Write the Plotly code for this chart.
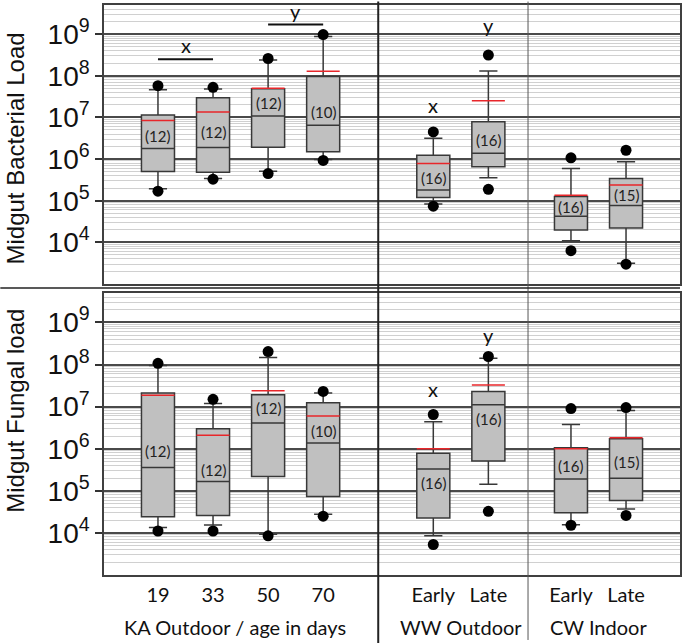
import plotly.graph_objects as go

# ---------------- data ----------------
categories = ["19", "33", "50", "70", "Early", "Late", "Early", "Late"]
group_labels = ["KA Outdoor / age in days", "WW Outdoor", "CW Indoor"]
n_counts = [12, 12, 12, 10, 16, 16, 16, 15]
y_tick_values = [1e4, 1e5, 1e6, 1e7, 1e8, 1e9]
y_tick_labels = ["10<sup>4</sup>", "10<sup>5</sup>", "10<sup>6</sup>", "10<sup>7</sup>",
                 "10<sup>8</sup>", "10<sup>9</sup>"]

bac_low_dot = [1.7e5, 3.3e5, 4.5e5, 9.3e5, 7.4e4, 1.88e5, 6.3e3, 3.0e3]
bac_low_whisk = [1.95e5, 3.4e5, 5.1e5, 9.8e5, 8.4e4, 3.57e5, 1.1e4, 3.15e3]
bac_q1 = [5.06e5, 4.8e5, 1.93e6, 1.5e6, 1.19e5, 6.5e5, 1.97e4, 2.2e4]
bac_median = [1.8e6, 1.9e6, 1.08e7, 6.5e6, 1.81e5, 1.39e6, 4.26e4, 7.66e4]
bac_q3 = [1.14e7, 2.96e7, 4.9e7, 9.6e7, 1.24e6, 7.9e6, 1.26e5, 3.44e5]
bac_up_whisk = [4.6e7, 4.8e7, 2.4e8, 8.8e8, 3.16e6, 1.31e8, 5.96e5, 8.6e5]
bac_up_dot = [5.8e7, 5.3e7, 2.6e8, 9.8e8, 4.5e6, 3.15e8, 1.07e6, 1.63e6]
bac_mean = [8.5e6, 1.35e7, 5.0e7, 1.28e8, 7.85e5, 2.5e7, 1.35e5, 2.38e5]

fun_low_dot = [1.11e4, 1.11e4, 8.5e3, 2.5e4, 5.3e3, 3.25e4, 1.52e4, 2.6e4]
fun_low_whisk = [1.34e4, 1.55e4, 9.3e3, 2.76e4, 8.5e3, 1.44e5, 1.57e4, 3.7e4]
fun_q1 = [2.43e4, 2.6e4, 2.18e5, 7.3e4, 2.26e4, 5.1e5, 3.0e4, 5.9e4]
fun_median = [3.56e5, 1.66e5, 4.1e6, 1.36e6, 3.3e5, 1.11e7, 1.92e5, 1.99e5]
fun_q3 = [2.1e7, 3.0e6, 1.92e7, 1.24e7, 7.8e5, 2.3e7, 1.05e6, 1.72e6]
fun_up_whisk = [9.5e7, 1.18e7, 1.46e8, 2.1e7, 4.4e6, 1.41e8, 3.76e6, 8.05e6]
fun_up_dot = [1.07e8, 1.49e7, 2.03e8, 2.3e7, 6.5e6, 1.55e8, 8.97e6, 9.5e6]
fun_mean = [1.85e7, 2.1e6, 2.39e7, 6.0e6, 1.0e6, 3.25e7, 1.0e6, 1.82e6]

# ---------------- layout constants ----------------
positions = [1, 2, 3, 4, 6, 7, 8.5, 9.5]
group_centers = [2.4, 6.5, 9.0]
dividers = [5.0, 7.72]
x_range = [0.02, 10.48]
y_range_log = [3.0, 9.7]
box_w = 0.6
top_dom = [0.5105, 1.0]
bot_dom = [0.0, 0.4948]
# vertical placement (log10 units) of the "(n)" labels inside the boxes
n_label_pos_top = [6.55, 6.64, 7.34, 7.14, 5.54, 6.47, 4.86, 5.14]
n_label_pos_bot = [5.95, 5.50, 6.97, 6.42, 5.19, 6.70, 5.58, 5.68]

FILL = "#c0c0c0"
EDGE = "#383838"
RED = "#e8262a"
TXT_FONT = "Lato"

fig = go.Figure()


def add_panel(xa, ya, low_dot, low_wh, q1, med, q3, up_wh, up_dot, mean, label_pos):
    fig.add_trace(go.Box(
        x=positions, q1=q1, median=med, q3=q3,
        lowerfence=low_wh, upperfence=up_wh,
        width=box_w, whiskerwidth=0.55,
        fillcolor=FILL, line=dict(color=EDGE, width=1.5),
        boxpoints=False, xaxis=xa, yaxis=ya,
        showlegend=False, hoverinfo="skip"))
    # mean lines (red)
    mx, my = [], []
    for p, m in zip(positions, mean):
        mx += [p - box_w / 2, p + box_w / 2, None]
        my += [m, m, None]
    fig.add_trace(go.Scatter(x=mx, y=my, mode="lines",
                             line=dict(color=RED, width=1.5),
                             xaxis=xa, yaxis=ya, showlegend=False, hoverinfo="skip"))
    # extreme points
    fig.add_trace(go.Scatter(x=positions + positions, y=low_dot + up_dot, mode="markers",
                             marker=dict(color="black", size=11),
                             xaxis=xa, yaxis=ya, showlegend=False, hoverinfo="skip"))
    # n labels
    for p, n, lp in zip(positions, n_counts, label_pos):
        fig.add_annotation(x=p, y=lp, xref=xa, yref=ya, text=f"({n})", showarrow=False,
                           xanchor="center", yanchor="middle",
                           font=dict(family=TXT_FONT, size=15, color="#222222"))


add_panel("x", "y", bac_low_dot, bac_low_whisk, bac_q1, bac_median, bac_q3,
          bac_up_whisk, bac_up_dot, bac_mean, n_label_pos_top)
add_panel("x2", "y2", fun_low_dot, fun_low_whisk, fun_q1, fun_median, fun_q3,
          fun_up_whisk, fun_up_dot, fun_mean, n_label_pos_bot)

# significance bars (top panel, KA group)
sig_bars = [(1, 2, 8.395, "x"), (3, 4, 9.23, "y")]
bx, by = [], []
for a, b, lv, lab in sig_bars:
    bx += [a, b, None]
    by += [10 ** lv, 10 ** lv, None]
    fig.add_annotation(x=(a + b) / 2, y=lv, xref="x", yref="y", text=lab,
                       showarrow=False, xanchor="center", yanchor="bottom", yshift=0,
                       font=dict(family=TXT_FONT, size=20, color="#111111"))
fig.add_trace(go.Scatter(x=bx, y=by, mode="lines", line=dict(color="#111111", width=2),
                         xaxis="x", yaxis="y", showlegend=False, hoverinfo="skip"))

# significance letters (WW group)
sig_letters = [("x", "y", positions[4], 7.30, "x"), ("x", "y", positions[5], 9.23, "y"),
               ("x2", "y2", positions[4], 7.41, "x"), ("x2", "y2", positions[5], 8.71, "y")]
for xa, ya, p, lv, lab in sig_letters:
    fig.add_annotation(x=p, y=lv, xref=xa, yref=ya, text=lab, showarrow=False,
                       xanchor="center", yanchor="middle",
                       font=dict(family=TXT_FONT, size=20, color="#111111"))

# group labels below x axis
for c, lab in zip(group_centers, group_labels):
    fig.add_annotation(x=c, y=-0.091, xref="x2", yref="paper", text=lab, showarrow=False,
                       xanchor="center", yanchor="middle",
                       font=dict(family=TXT_FONT, size=20, color="#111111"))

# y titles
fig.add_annotation(x=-0.153, y=0.748, xref="paper", yref="paper", text="Midgut Bacterial Load",
                   textangle=-90, showarrow=False, xanchor="center", yanchor="middle",
                   font=dict(family="Liberation Sans", size=24, color="#111111"))
fig.add_annotation(x=-0.153, y=0.288, xref="paper", yref="paper", text="Midgut Fungal load",
                   textangle=-90, showarrow=False, xanchor="center", yanchor="middle",
                   font=dict(family="Liberation Sans", size=24, color="#111111"))

# dividers
shapes = [
    dict(type="line", xref="x", yref="paper", x0=dividers[0], x1=dividers[0],
         y0=-0.12, y1=1.006, line=dict(color="#222222", width=2)),
    dict(type="line", xref="x", yref="paper", x0=dividers[1], x1=dividers[1],
         y0=-0.114, y1=1.006, line=dict(color="#555555", width=1)),
    dict(type="line", xref="paper", yref="paper", x0=-0.18, x1=1.0,
         y0=0.5035, y1=0.5035, line=dict(color="#222222", width=1.5)),
]

yaxis_common = dict(
    type="log", range=y_range_log, tickmode="array", tickvals=y_tick_values,
    ticktext=y_tick_labels, ticks="outside", ticklen=7, tickcolor="#333333", tickwidth=1.5,
    tickfont=dict(family="Liberation Sans", size=28, color="#111111"),
    showgrid=True, gridcolor="#4a4a4a", gridwidth=1.5,
    minor=dict(dtick="D1", showgrid=True, gridcolor="#d0d0d0", gridwidth=1.4, ticks=""),
    showline=True, mirror=True, linecolor="#404040", linewidth=1.5, zeroline=False,
)
xaxis_common = dict(
    range=x_range, showgrid=False, zeroline=False, showline=True, mirror=True,
    linecolor="#404040", linewidth=1.5,
)

fig.update_layout(
    width=685, height=643,
    margin=dict(l=104, r=3, t=3, b=68),
    paper_bgcolor="white", plot_bgcolor="white",
    showlegend=False,
    xaxis=dict(**xaxis_common, anchor="y", showticklabels=False, ticks=""),
    yaxis=dict(**yaxis_common, domain=top_dom, anchor="x"),
    xaxis2=dict(**xaxis_common, anchor="y2", tickmode="array", tickvals=positions,
                ticktext=categories, ticks="outside", ticklen=1,
                tickcolor="rgba(0,0,0,0)",
                tickfont=dict(family=TXT_FONT, size=20, color="#111111")),
    yaxis2=dict(**yaxis_common, domain=bot_dom, anchor="x2"),
    shapes=shapes,
)

fig.write_html("out.html", config={"displayModeBar": False},
               post_script="document.body.style.margin='0';document.body.style.padding='0';")
